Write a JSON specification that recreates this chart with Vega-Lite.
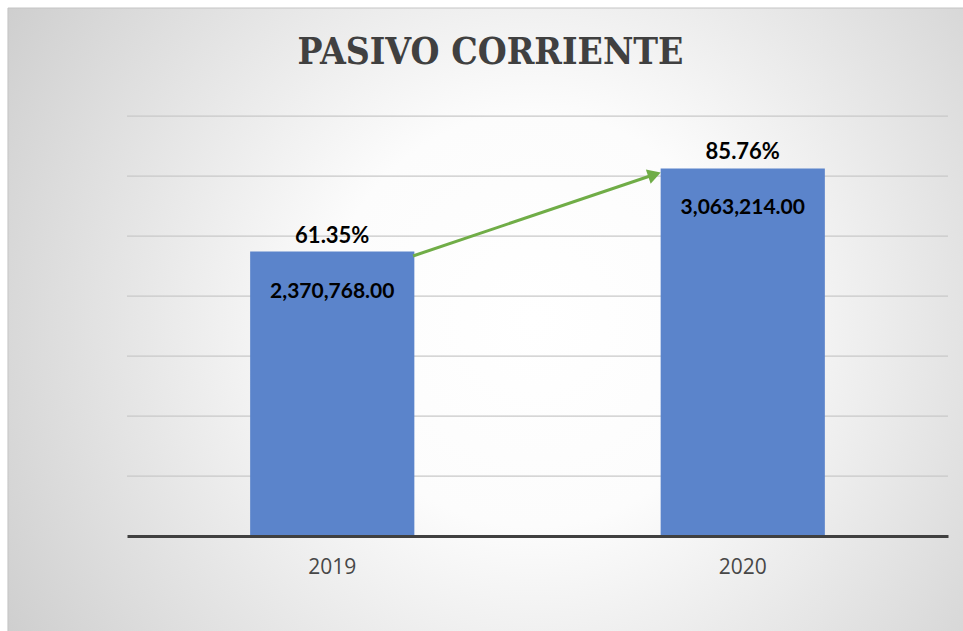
{
  "$schema": "https://vega.github.io/schema/vega-lite/v6.json",
  "width": 821,
  "height": 420,
  "autosize": {"type": "none"},
  "padding": {"left": 127, "top": 116, "right": 15, "bottom": 95},
  "background": "white",
  "config": {"view": {"stroke": null}},
  "title": {
    "text": "PASIVO CORRIENTE",
    "font": "DejaVu Serif Condensed, DejaVu Serif",
    "fontWeight": "bold",
    "fontSize": 37,
    "color": "#404040",
    "anchor": "middle",
    "frame": "group",
    "dx": -47,
    "offset": -93,
    "baseline": "alphabetic"
  },
  "datasets": {
    "main": [
      {"year": "2019", "value": 2370768, "pct": 0.6135},
      {"year": "2020", "value": 3063214, "pct": 0.8576}
    ]
  },
  "layer": [
    {
      "data": {"values": [{"x1": -0.29, "x2": 2.04, "y1": -800000, "y2": 4400000}]},
      "mark": {
        "type": "rect",
        "stroke": "#c4c4c4",
        "strokeWidth": 1,
        "fill": {
          "gradient": "radial",
          "x1": 0.55, "y1": 0.5, "r1": 0,
          "x2": 0.55, "y2": 0.5, "r2": 0.72,
          "stops": [
            {"offset": 0, "color": "#ffffff"},
            {"offset": 0.3, "color": "#fcfcfc"},
            {"offset": 1, "color": "#c6c6c6"}
          ]
        }
      },
      "encoding": {
        "x": {"field": "x1", "type": "quantitative", "scale": {"domain": [0, 2], "nice": false, "zero": false}, "axis": null},
        "x2": {"field": "x2"},
        "y": {"field": "y1", "type": "quantitative", "scale": {"domain": [0, 3500000], "nice": false}, "axis": null},
        "y2": {"field": "y2"}
      }
    },
    {
      "data": {"values": [{"g": 500000}, {"g": 1000000}, {"g": 1500000}, {"g": 2000000}, {"g": 2500000}, {"g": 3000000}, {"g": 3500000}]},
      "mark": {"type": "rule", "color": "#c8c8c8", "strokeWidth": 1.25},
      "encoding": {
        "y": {"field": "g", "type": "quantitative", "scale": {"domain": [0, 3500000], "nice": false}, "axis": null}
      }
    },
    {
      "data": {"name": "main"},
      "mark": {"type": "bar", "color": "#5b84cb"},
      "encoding": {
        "x": {
          "field": "year", "type": "nominal",
          "scale": {"paddingInner": 0.6, "paddingOuter": 0.3},
          "axis": {
            "title": null, "labelAngle": 0, "ticks": false, "grid": false,
            "domain": true, "domainColor": "#404040", "domainWidth": 3,
            "labelFont": "Open Sans", "labelFontSize": 21, "labelColor": "#474747",
            "labelPadding": 20, "zindex": 1
          }
        },
        "y": {"field": "value", "type": "quantitative", "scale": {"domain": [0, 3500000], "nice": false}, "axis": null}
      }
    },
    {
      "data": {"values": [{"ax": 0.6967, "ay": 2333333}, {"ax": 1.285, "ay": 3012500}]},
      "mark": {"type": "line", "color": "#70ad47", "strokeWidth": 3},
      "encoding": {
        "x": {"field": "ax", "type": "quantitative", "scale": {"domain": [0, 2], "nice": false, "zero": false}, "axis": null},
        "y": {"field": "ay", "type": "quantitative", "scale": {"domain": [0, 3500000], "nice": false}, "axis": null}
      }
    },
    {
      "data": {"values": [{"ax": 1.285, "ay": 3012500}]},
      "mark": {"type": "point", "shape": "triangle-right", "filled": true, "color": "#70ad47", "opacity": 1, "size": 230, "angle": -18.4},
      "encoding": {
        "x": {"field": "ax", "type": "quantitative", "scale": {"domain": [0, 2], "nice": false, "zero": false}, "axis": null},
        "y": {"field": "ay", "type": "quantitative", "scale": {"domain": [0, 3500000], "nice": false}, "axis": null}
      }
    },
    {
      "data": {"name": "main"},
      "mark": {"type": "text", "font": "Lato", "fontWeight": "bold", "fontSize": 22, "color": "#000000", "baseline": "alphabetic", "dy": -9},
      "encoding": {
        "x": {"field": "year", "type": "nominal", "scale": {"paddingInner": 0.6, "paddingOuter": 0.3}, "axis": null},
        "y": {"field": "value", "type": "quantitative", "scale": {"domain": [0, 3500000], "nice": false}, "axis": null},
        "text": {"field": "pct", "type": "quantitative", "format": ".2%"}
      }
    },
    {
      "data": {"name": "main"},
      "mark": {"type": "text", "font": "Lato", "fontWeight": "bold", "fontSize": 21, "color": "#000000", "baseline": "alphabetic", "dy": 46},
      "encoding": {
        "x": {"field": "year", "type": "nominal", "scale": {"paddingInner": 0.6, "paddingOuter": 0.3}, "axis": null},
        "y": {"field": "value", "type": "quantitative", "scale": {"domain": [0, 3500000], "nice": false}, "axis": null},
        "text": {"field": "value", "type": "quantitative", "format": ",.2f"}
      }
    }
  ],
  "resolve": {"scale": {"x": "independent"}}
}
